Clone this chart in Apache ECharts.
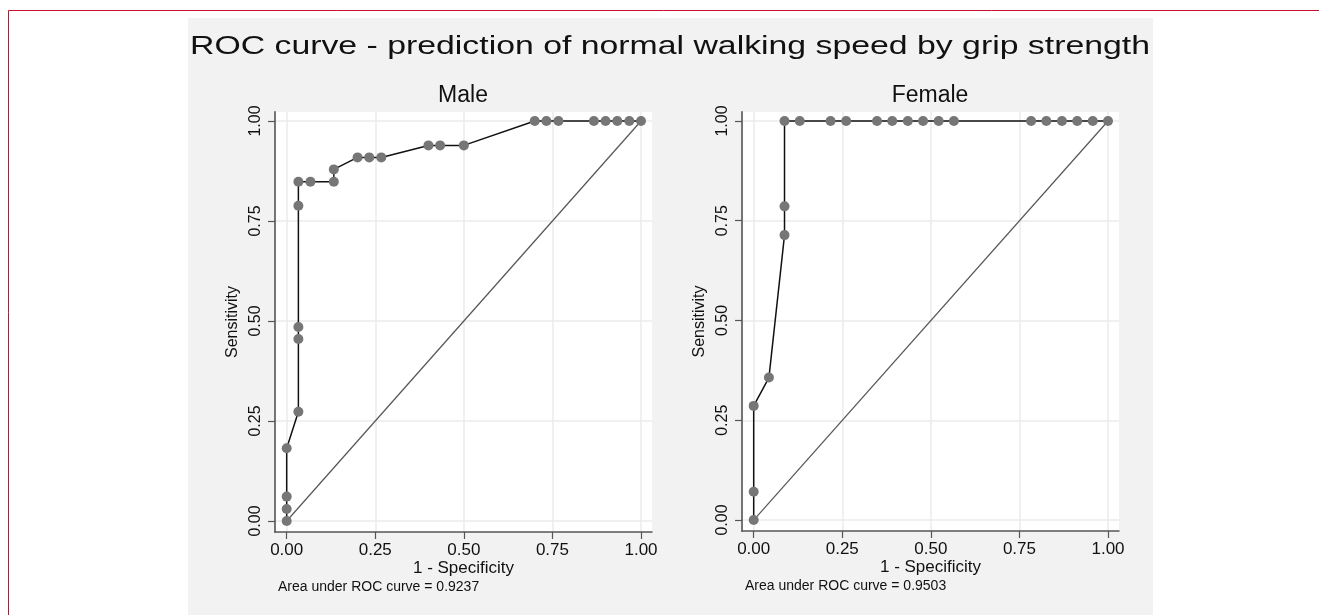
<!DOCTYPE html>
<html lang="en">
<head>
    <meta charset="UTF-8">
    <title>ROC curve</title>
    <script src="https://cdn.jsdelivr.net/npm/echarts@6/dist/echarts.min.js"></script>
    <style>
        body { margin: 0; background: #fff; }
    </style>
</head>
<body>
    <div id="main" style="width: 1319px;height:615px;"></div>
    <script type="text/javascript">
        // ROC points, male panel (1 - specificity, sensitivity)
        var maleFpr = [0, 0, 0, 0, 0.033, 0.033, 0.033, 0.033, 0.033, 0.067, 0.133, 0.133, 0.2, 0.233, 0.267, 0.4, 0.433, 0.5, 0.7, 0.733, 0.767, 0.867, 0.9, 0.933, 0.967, 1];
        var maleTpr = [0, 0.03, 0.061, 0.182, 0.273, 0.455, 0.485, 0.788, 0.848, 0.848, 0.848, 0.879, 0.909, 0.909, 0.909, 0.939, 0.939, 0.939, 1, 1, 1, 1, 1, 1, 1, 1];

        // ROC points, female panel
        var femaleFpr = [0, 0, 0, 0.043, 0.087, 0.087, 0.087, 0.13, 0.217, 0.261, 0.348, 0.391, 0.435, 0.478, 0.522, 0.565, 0.783, 0.826, 0.87, 0.913, 0.957, 1];
        var femaleTpr = [0, 0.071, 0.286, 0.357, 0.714, 0.786, 1, 1, 1, 1, 1, 1, 1, 1, 1, 1, 1, 1, 1, 1, 1, 1];

        // chance line
        var refX = [0, 1];
        var refY = [0, 1];

        var tickValues = [0, 0.25, 0.5, 0.75, 1];
        var panelTitles = ['Male', 'Female'];
        var aucTexts = ['Area under ROC curve = 0.9237', 'Area under ROC curve = 0.9503'];
        var mainTitle = 'ROC curve - prediction of normal walking speed by grip strength';

        var font = "'Liberation Sans', Arial, sans-serif";

        function pairs(xs, ys) {
            return xs.map(function (x, i) { return [x, ys[i]]; });
        }

        function xAxisFor(idx) {
            return {
                type: 'value', gridIndex: idx, min: -0.033, max: 1.031,
                name: '1 - Specificity', nameLocation: 'middle', nameGap: 28, nameMoveOverlap: false,
                nameTextStyle: { fontFamily: font, fontSize: 17, color: '#111' },
                axisLine: { show: true, onZero: false, lineStyle: { color: '#555', width: 1.5 } },
                axisTick: { show: true, length: 7, customValues: tickValues, lineStyle: { color: '#555', width: 1.2 } },
                axisLabel: {
                    customValues: tickValues, margin: 10, fontFamily: font, fontSize: 17, color: '#111',
                    formatter: function (v) { return v.toFixed(2); }
                },
                splitLine: { show: true, lineStyle: { color: '#ebebeb', width: 1.5 } }
            };
        }

        function yAxisFor(idx) {
            return {
                type: 'value', gridIndex: idx, min: -0.0275, max: 1.0225,
                name: 'Sensitivity', nameLocation: 'middle', nameGap: 34, nameMoveOverlap: false,
                nameTextStyle: { fontFamily: font, fontSize: 16, color: '#111' },
                axisLine: { show: true, onZero: false, lineStyle: { color: '#666', width: 1.8 } },
                axisTick: { show: true, length: 7, customValues: tickValues, lineStyle: { color: '#555', width: 1.2 } },
                axisLabel: {
                    customValues: tickValues, rotate: 90, margin: 11, fontFamily: font, fontSize: 16, color: '#111',
                    formatter: function (v) { return v.toFixed(2); }
                },
                splitLine: { show: true, lineStyle: { color: '#ebebeb', width: 1.5 } }
            };
        }

        function rocSeries(idx, xs, ys) {
            return {
                type: 'line', xAxisIndex: idx, yAxisIndex: idx,
                data: pairs(xs, ys), animation: false, z: 3,
                symbol: 'circle', symbolSize: 10,
                lineStyle: { color: '#111', width: 1.5 },
                itemStyle: { color: '#767676' }
            };
        }

        function refSeries(idx) {
            return {
                type: 'line', xAxisIndex: idx, yAxisIndex: idx,
                data: pairs(refX, refY), animation: false, z: 2,
                showSymbol: false, symbol: 'none',
                lineStyle: { color: '#555', width: 1.2 }
            };
        }

        var option = {
            backgroundColor: '#fff',
            animation: false,
            grid: [
                { left: 275, top: 112, width: 377, height: 420, show: true, backgroundColor: '#fff', borderWidth: 0 },
                { left: 742, top: 112, width: 377, height: 419, show: true, backgroundColor: '#fff', borderWidth: 0 }
            ],
            xAxis: [xAxisFor(0), xAxisFor(1)],
            yAxis: [yAxisFor(0), yAxisFor(1)],
            series: [
                refSeries(0), rocSeries(0, maleFpr, maleTpr),
                refSeries(1), rocSeries(1, femaleFpr, femaleTpr)
            ],
            graphic: [
                // light grey plot region
                { type: 'rect', z: -10, shape: { x: 188, y: 18, width: 965, height: 600 }, style: { fill: '#f2f2f2' } },
                // red frame
                { type: 'line', z: 10, shape: { x1: 8.5, y1: 10.5, x2: 1319, y2: 10.5 }, style: { stroke: '#c8102e', lineWidth: 1 } },
                { type: 'line', z: 10, shape: { x1: 8.5, y1: 10.5, x2: 8.5, y2: 615 }, style: { stroke: '#c8102e', lineWidth: 1 } },
                {
                    type: 'text', z: 10, x: 670, y: 47, scaleX: 1.3,
                    style: { text: mainTitle, x: 0, y: 0, fontFamily: font, fontSize: 26, fill: '#111', textAlign: 'center', textVerticalAlign: 'middle' }
                },
                {
                    type: 'text', z: 10, x: 463, y: 96,
                    style: { text: panelTitles[0], fontFamily: font, fontSize: 23, fill: '#111', textAlign: 'center', textVerticalAlign: 'middle' }
                },
                {
                    type: 'text', z: 10, x: 930, y: 96,
                    style: { text: panelTitles[1], fontFamily: font, fontSize: 23, fill: '#111', textAlign: 'center', textVerticalAlign: 'middle' }
                },
                {
                    type: 'text', z: 10, x: 278, y: 587,
                    style: { text: aucTexts[0], fontFamily: font, fontSize: 14, fill: '#111', textAlign: 'left', textVerticalAlign: 'middle' }
                },
                {
                    type: 'text', z: 10, x: 745, y: 586,
                    style: { text: aucTexts[1], fontFamily: font, fontSize: 14, fill: '#111', textAlign: 'left', textVerticalAlign: 'middle' }
                }
            ]
        };

        var myChart = echarts.init(document.getElementById('main'));
        myChart.setOption(option);
    </script>
</body>
</html>
